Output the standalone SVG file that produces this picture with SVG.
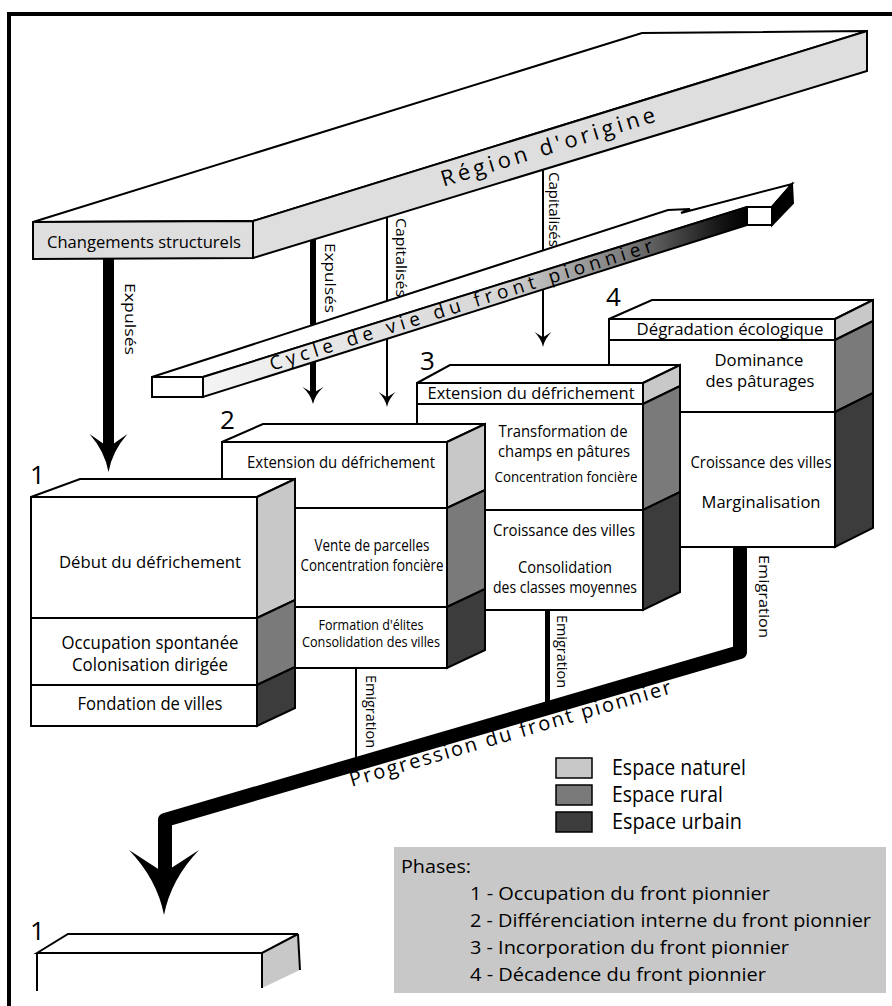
<svg xmlns="http://www.w3.org/2000/svg" width="892" height="1006" viewBox="0 0 892 1006">
<defs>
<style>
.o{stroke:#000;stroke-width:2;stroke-linejoin:miter}
.w{fill:#fff}
.g{fill:#dedede}
.nat{fill:#c8c8c8}
.rur{fill:#7a7a7a}
.urb{fill:#3c3c3c}
.dv{stroke:#000;stroke-width:2}
text{font-family:"Open Sans","Liberation Sans",sans-serif;fill:#000}
.c{text-anchor:middle}
.num{font-size:26px}
.lbl{font-size:14.5px}
.ah{fill:#000}
</style>
<linearGradient id="grad" gradientUnits="userSpaceOnUse" x1="203" y1="0" x2="747" y2="0">
<stop offset="0" stop-color="#f4f4f4"/>
<stop offset="0.55" stop-color="#d6d6d6"/>
<stop offset="0.78" stop-color="#7a7a7a"/>
<stop offset="0.95" stop-color="#151515"/>
<stop offset="1" stop-color="#000"/>
</linearGradient>
<path id="ah" d="M0,0 Q-2,-11 -10,-20 L0,-13 L10,-20 Q2,-11 0,0 Z"/>
</defs>
<rect width="892" height="1006" fill="#fff"/>
<rect x="9" y="14" width="900" height="1000" fill="none" stroke="#000" stroke-width="4"/>

<g id="region">
<polygon class="w o" points="33,222 642,33 867,31 253,221"/>
<polygon class="g o" points="33,222 253,221 253,258 33,259"/>
<polygon class="g o" points="253,221 867,31 867,71 253,258"/>
<text class="c" x="144" y="248" font-size="16.5" textLength="194" lengthAdjust="spacingAndGlyphs">Changements structurels</text>
<text class="c" x="550" y="154" font-size="22" textLength="223" lengthAdjust="spacing" transform="rotate(-17.06 550 154)">Région d'origine</text>
</g>

<g id="connectors">
<rect x="103" y="259" width="11" height="191" fill="#000"/>
<use href="#ah" transform="translate(108.5,472) scale(1.9)"/>
<text class="lbl" x="124.5" y="283" textLength="72" lengthAdjust="spacingAndGlyphs" transform="rotate(90 124.5 283)">Expulsés</text>
<line x1="313" y1="240" x2="313" y2="396" stroke="#000" stroke-width="6"/>
<use href="#ah" transform="translate(313,404) scale(1.05,0.85)"/>
<text class="lbl" x="324.5" y="243" textLength="70" lengthAdjust="spacingAndGlyphs" transform="rotate(90 324.5 243)">Expulsés</text>
<line x1="387" y1="217" x2="387" y2="398" stroke="#000" stroke-width="2"/>
<use href="#ah" transform="translate(387,407) scale(0.85,0.75)"/>
<text class="lbl" x="396" y="218" textLength="79" lengthAdjust="spacingAndGlyphs" transform="rotate(90 396 218)">Capitalisés</text>
<line x1="543" y1="170" x2="543" y2="338" stroke="#000" stroke-width="2"/>
<use href="#ah" transform="translate(543,347) scale(0.85,0.75)"/>
<text class="lbl" x="549" y="172" textLength="75" lengthAdjust="spacingAndGlyphs" transform="rotate(90 549 172)">Capitalisés</text>
<line x1="356" y1="668" x2="356" y2="762" stroke="#000" stroke-width="2"/>
<text class="lbl" x="365.5" y="675" textLength="73" lengthAdjust="spacingAndGlyphs" transform="rotate(90 365.5 675)">Emigration</text>
<line x1="547.5" y1="610" x2="547.5" y2="706" stroke="#000" stroke-width="5"/>
<text class="lbl" x="557" y="615" textLength="73" lengthAdjust="spacingAndGlyphs" transform="rotate(90 557 615)">Emigration</text>
<polyline points="740,546 740,652 165,820 165,875" fill="none" stroke="#000" stroke-width="14" stroke-linejoin="round"/>
<use href="#ah" transform="translate(164,915) scale(3.5,3.25)"/>
<text x="759" y="555" font-size="15" textLength="83" lengthAdjust="spacingAndGlyphs" transform="rotate(90 759 555)">Emigration</text>
<text class="c" x="512" y="740" font-size="20" textLength="334" lengthAdjust="spacing" transform="rotate(-16.3 512 740)">Progression du front pionnier</text>
</g>

<g id="cycle">
<polygon class="w o" points="152,377 668,210 690,209 681,213 792,184 772,207 747,207 203,377"/>
<polygon class="o" fill="url(#grad)" points="203,377 747,207 747,225 203,397"/>
<rect class="w o" x="152" y="377" width="51" height="20"/>
<rect class="w o" x="747" y="207" width="25" height="18"/>
<polygon class="o" fill="#000" points="772,207 792,184 793,203 772,225"/>
<text class="c" x="463" y="311" font-size="19" textLength="400" lengthAdjust="spacing" transform="rotate(-17.35 463 311)">Cycle de vie du front pionnier</text>
</g>

<g id="box4">
<polygon class="w o" points="609,319 652,300 873,300 835,319"/>
<rect class="w o" x="609" y="319" width="226" height="228"/>
<polygon class="nat o" points="835,319 873,300 873,321 835,340"/>
<polygon class="rur o" points="835,340 873,321 873,393 835,412"/>
<polygon class="urb o" points="835,412 873,393 873,528 835,547"/>
<line class="dv" x1="609" y1="340" x2="835" y2="340"/>
<line class="dv" x1="609" y1="412" x2="835" y2="412"/>
<text class="num" x="606" y="306">4</text>
<text class="c" x="730" y="335" font-size="15.5" textLength="187" lengthAdjust="spacingAndGlyphs">Dégradation écologique</text>
<text class="c" x="759" y="366" font-size="17" textLength="89" lengthAdjust="spacingAndGlyphs">Dominance</text>
<text class="c" x="760" y="387" font-size="17" textLength="109" lengthAdjust="spacingAndGlyphs">des pâturages</text>
<text class="c" x="761" y="468" font-size="16.5" textLength="141" lengthAdjust="spacingAndGlyphs">Croissance des villes</text>
<text class="c" x="761" y="508" font-size="17" textLength="119" lengthAdjust="spacingAndGlyphs">Marginalisation</text>
</g>

<g id="box3">
<polygon class="w o" points="417,383 450,365 680,365 643,383"/>
<rect class="w o" x="417" y="383" width="226" height="227"/>
<polygon class="nat o" points="643,383 680,365 680,386 643,404"/>
<polygon class="rur o" points="643,404 680,386 680,492 643,510"/>
<polygon class="urb o" points="643,510 680,492 680,592 643,610"/>
<line class="dv" x1="417" y1="404" x2="643" y2="404"/>
<line class="dv" x1="417" y1="510" x2="643" y2="510"/>
<text class="num" x="420" y="370">3</text>
<text class="c" x="531" y="399" font-size="16" textLength="207" lengthAdjust="spacingAndGlyphs">Extension du défrichement</text>
<text class="c" x="563" y="437" font-size="16" textLength="129" lengthAdjust="spacingAndGlyphs">Transformation de</text>
<text class="c" x="564" y="457" font-size="16" textLength="132" lengthAdjust="spacingAndGlyphs">champs en pâtures</text>
<text class="c" x="566" y="482" font-size="14.5" textLength="143" lengthAdjust="spacingAndGlyphs">Concentration foncière</text>
<text class="c" x="564" y="536" font-size="16" textLength="142" lengthAdjust="spacingAndGlyphs">Croissance des villes</text>
<text class="c" x="565" y="573" font-size="16" textLength="94" lengthAdjust="spacingAndGlyphs">Consolidation</text>
<text class="c" x="565" y="593" font-size="16" textLength="144" lengthAdjust="spacingAndGlyphs">des classes moyennes</text>
</g>

<g id="box2">
<polygon class="w o" points="222,442 263,424 485,424 447,442"/>
<rect class="w o" x="222" y="442" width="225" height="226"/>
<polygon class="nat o" points="447,442 485,424 485,490 447,508"/>
<polygon class="rur o" points="447,508 485,490 485,589 447,607"/>
<polygon class="urb o" points="447,607 485,589 485,650 447,668"/>
<line class="dv" x1="222" y1="508" x2="447" y2="508"/>
<line class="dv" x1="222" y1="607" x2="447" y2="607"/>
<text class="num" x="220" y="429">2</text>
<text class="c" x="341" y="468" font-size="15.5" textLength="188" lengthAdjust="spacingAndGlyphs">Extension du défrichement</text>
<text class="c" x="372" y="551" font-size="15.5" textLength="115" lengthAdjust="spacingAndGlyphs">Vente de parcelles</text>
<text class="c" x="372" y="571" font-size="15.5" textLength="143" lengthAdjust="spacingAndGlyphs">Concentration foncière</text>
<text class="c" x="371" y="630" font-size="14" textLength="105" lengthAdjust="spacingAndGlyphs">Formation d'élites</text>
<text class="c" x="371" y="647" font-size="14" textLength="138" lengthAdjust="spacingAndGlyphs">Consolidation des villes</text>
</g>

<g id="box1">
<polygon class="w o" points="31,497 80,479 295,479 257,497"/>
<rect class="w o" x="31" y="497" width="226" height="229"/>
<polygon class="nat o" points="257,497 295,479 295,600 257,618"/>
<polygon class="rur o" points="257,618 295,600 295,667 257,685"/>
<polygon class="urb o" points="257,685 295,667 295,708 257,726"/>
<line class="dv" x1="31" y1="618" x2="257" y2="618"/>
<line class="dv" x1="31" y1="685" x2="257" y2="685"/>
<text class="num" x="30" y="484">1</text>
<text class="c" x="150" y="568" font-size="17" textLength="182" lengthAdjust="spacingAndGlyphs">Début du défrichement</text>
<text class="c" x="150" y="649" font-size="18" textLength="177" lengthAdjust="spacingAndGlyphs">Occupation spontanée</text>
<text class="c" x="150" y="671" font-size="18" textLength="156" lengthAdjust="spacingAndGlyphs">Colonisation dirigée</text>
<text class="c" x="150" y="710" font-size="17.5" textLength="145" lengthAdjust="spacingAndGlyphs">Fondation de villes</text>
</g>

<g id="box1-next">
<polygon class="nat" points="262,953 298,934 300,970 262,988"/>
<polygon class="w o" points="37,953 68,934 298,934 262,953"/>
<line class="dv" x1="37" y1="953" x2="37" y2="991"/>
<line class="dv" x1="262" y1="953" x2="262" y2="988"/>
<line class="dv" x1="298" y1="934" x2="300" y2="970"/>
<text class="num" x="30" y="940">1</text>
</g>

<g id="legend">
<rect class="nat" x="556" y="758" width="36" height="20" stroke="#000" stroke-width="1.5"/>
<rect class="rur" x="556" y="785" width="36" height="20" stroke="#000" stroke-width="1.5"/>
<rect class="urb" x="556" y="812" width="36" height="20" stroke="#000" stroke-width="1.5"/>
<text x="612" y="775" font-size="21" textLength="134" lengthAdjust="spacingAndGlyphs">Espace naturel</text>
<text x="612" y="802" font-size="21" textLength="111" lengthAdjust="spacingAndGlyphs">Espace rural</text>
<text x="612" y="829" font-size="21" textLength="130" lengthAdjust="spacingAndGlyphs">Espace urbain</text>
</g>

<g id="phases">
<rect x="394" y="847" width="492" height="146" fill="#c8c8c8"/>
<text x="401" y="873" font-size="19" textLength="70" lengthAdjust="spacingAndGlyphs">Phases:</text>
<text x="470" y="900" font-size="19" textLength="300" lengthAdjust="spacingAndGlyphs">1 - Occupation du front pionnier</text>
<text x="470" y="927" font-size="19" textLength="401" lengthAdjust="spacingAndGlyphs">2 - Différenciation interne du front pionnier</text>
<text x="470" y="954" font-size="19" textLength="319" lengthAdjust="spacingAndGlyphs">3 - Incorporation du front pionnier</text>
<text x="470" y="981" font-size="19" textLength="296" lengthAdjust="spacingAndGlyphs">4 - Décadence du front pionnier</text>
</g>
</svg>
